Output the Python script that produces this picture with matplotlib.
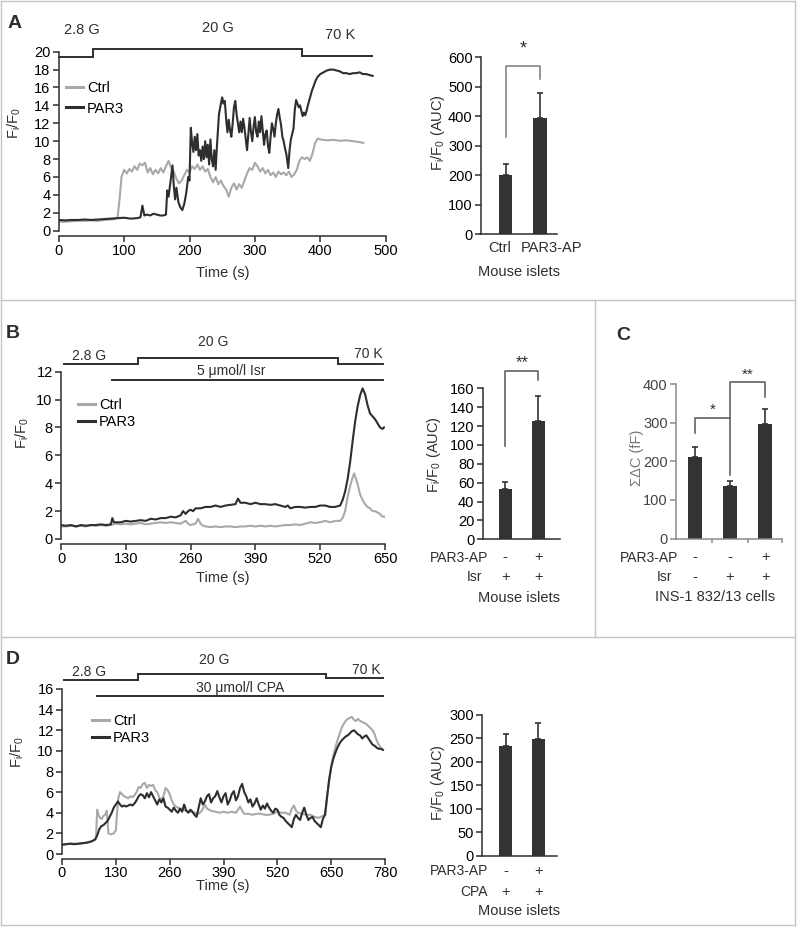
import matplotlib
matplotlib.use('Agg')
import matplotlib.pyplot as plt
import matplotlib.transforms as mtransforms
from matplotlib.lines import Line2D
import numpy as np

plt.rcParams['font.family'] = ['Liberation Sans', 'DejaVu Sans']
plt.rcParams['mathtext.fontset'] = 'custom'
plt.rcParams['mathtext.rm'] = 'Liberation Sans'
plt.rcParams['font.size'] = 10

# ---------------- data ----------------
# Panel A traces (time s, Fi/F0)
a_ctrl_t = [0, 10, 20, 30, 40, 50, 60, 70, 80, 86, 90, 93, 96,
            100, 104, 108, 112, 116, 120, 124, 128, 132, 136, 140, 144, 148, 152, 156, 160,
            164, 168, 172, 176, 180, 184, 188, 192, 196, 200, 204, 208, 212, 216, 220, 224,
            228, 232, 236, 240, 244, 248, 252, 256, 260, 264, 268, 272, 276, 280, 284, 288,
            292, 296, 300, 304, 308, 312, 316, 320, 324, 328, 332, 336, 340, 344, 348, 352,
            356, 360, 364, 368, 372, 376, 380, 384, 388, 392, 396, 400,
            410, 420, 430, 440, 450, 460, 466]
a_ctrl = [1.0, 1.0, 1.05, 1.1, 1.1, 1.15, 1.1, 1.2, 1.25, 1.3, 1.5, 3.5, 6.0,
          6.8, 6.4, 6.9, 6.6, 7.2, 6.8, 7.5, 7.3, 7.6, 6.5, 7.0, 6.3, 6.8, 6.4, 7.0, 6.5,
          7.2, 7.8, 7.0, 6.6, 5.8, 5.3, 5.6, 6.2, 6.8, 6.5, 7.2, 6.9, 7.4, 6.8, 7.2, 6.6,
          6.9, 6.0, 5.4, 6.0, 5.2, 5.6, 5.0, 4.6, 3.8, 4.8, 5.3, 4.6, 5.2, 4.8, 5.6, 6.4,
          7.0, 6.8, 7.6, 7.2, 6.6, 7.0, 6.4, 6.8, 6.2, 6.5, 6.0, 6.6, 6.3, 6.5, 6.2, 6.6,
          6.0, 6.3, 6.8, 7.8, 8.2, 8.0, 8.2, 7.8, 8.6, 9.8, 10.3, 10.2,
          10.1, 10.15, 10.05, 10.1, 10.0, 9.9, 9.8]

a_par3_t = [0, 10, 20, 30, 40, 50, 60, 70, 80, 90, 100, 110, 120, 125, 128, 131, 135, 140,
            145, 150, 155, 160, 164, 166, 168, 171, 174, 176, 178, 180, 183, 186, 189, 192,
            195, 198, 200, 202, 204, 206, 208, 210, 212, 214, 216, 218, 220, 222, 224, 226,
            228, 230, 232, 234, 236, 238, 240, 242, 245, 248, 250, 252, 254, 256, 258, 260,
            262, 264, 266, 268, 270, 272, 274, 276, 278, 280, 282, 284, 286, 288, 290, 292,
            294, 296, 298, 300, 302, 304, 306, 308, 310, 312, 314, 316, 318, 320, 322, 324,
            326, 328, 330, 332, 334, 336, 338, 340, 342, 344, 346, 348, 350, 351, 353, 355,
            357, 359, 361, 363, 365, 367, 369, 371, 373, 375, 377, 379, 381, 384, 387, 390,
            393, 396, 400, 405, 410, 415, 420, 425, 430, 435, 440, 445, 450, 455, 460, 465,
            470, 475, 480]
a_par3 = [1.2, 1.15, 1.2, 1.2, 1.25, 1.2, 1.25, 1.3, 1.35, 1.4, 1.45, 1.35, 1.4, 1.5, 2.8, 1.7, 1.8, 1.7,
          1.9, 1.8, 1.7, 1.7, 1.8, 4.5, 3.8, 5.5, 7.3, 5.0, 3.5, 4.8, 3.2, 2.6, 2.3, 3.0,
          4.2, 6.0, 5.6, 11.5, 9.8, 8.8, 10.5, 9.0, 10.8, 8.4, 9.0, 7.8, 9.4, 8.0, 10.0, 8.2,
          9.6, 7.4, 10.2, 8.0, 7.2, 9.0, 6.8, 9.5, 13.0, 14.2, 14.9, 14.2, 14.5, 12.5, 11.0, 12.4,
          11.2, 10.5, 12.0, 13.8, 14.5, 13.0, 12.0, 11.0, 12.2, 11.0, 12.5, 11.5, 10.2, 9.0, 10.8, 12.6,
          11.0, 10.0, 11.6, 12.7, 11.0, 10.5, 12.2, 11.0, 12.8, 11.2, 9.6, 10.8, 11.2, 9.5, 8.7, 10.5,
          12.0, 11.4, 10.5, 12.0, 13.0, 13.6, 12.6, 11.8, 10.5, 10.0, 9.2, 8.6, 7.5, 7.0, 9.0, 10.2,
          10.8, 11.4, 13.5, 14.6, 14.2, 13.8, 14.0, 13.4, 12.8, 13.2, 12.9, 13.4, 14.0, 14.8, 15.6, 16.2,
          16.8, 17.2, 17.5, 17.7, 17.9, 18.0, 18.0, 17.9, 17.8, 17.6, 17.6, 17.5, 17.6, 17.6, 17.7, 17.5,
          17.5, 17.4, 17.3]

# Panel B traces
b_par3_t = [0, 10, 20, 30, 40, 50, 60, 70, 80, 90, 100, 103, 106, 110, 120, 130, 140, 150,
            160, 170, 180, 190, 200, 210, 220, 230, 240, 245, 250, 255, 260, 265, 270, 280,
            290, 300, 310, 320, 330, 340, 350, 355, 360, 370, 380, 390, 400, 410, 420, 430,
            440, 450, 455, 460, 470, 480, 490, 500, 510, 520, 530, 540, 550, 560, 565, 570,
            575, 580, 585, 590, 595, 600, 605, 610, 615, 620, 625, 630, 635, 640, 645, 648]
b_par3 = [1.0, 0.95, 1.0, 0.9, 1.0, 0.95, 1.0, 1.0, 1.05, 1.0, 1.05, 1.5, 1.2, 1.2, 1.2, 1.3, 1.25, 1.3,
          1.35, 1.3, 1.45, 1.4, 1.5, 1.5, 1.6, 1.55, 1.7, 2.0, 1.8, 2.0, 2.1, 2.0, 2.2, 2.2,
          2.3, 2.3, 2.4, 2.3, 2.4, 2.45, 2.5, 2.9, 2.6, 2.6, 2.5, 2.6, 2.5, 2.5, 2.45, 2.5,
          2.4, 2.3, 2.4, 2.2, 2.3, 2.3, 2.25, 2.3, 2.3, 2.4, 2.4, 2.3, 2.3, 2.4, 2.8, 3.4,
          4.3, 5.5, 7.0, 8.4, 9.5, 10.3, 10.8, 10.4, 9.6, 9.0, 8.8, 8.6, 8.3, 8.0, 7.9, 8.0]

b_ctrl_t = [0, 10, 20, 30, 40, 50, 60, 70, 80, 90, 100, 110, 120, 130, 140, 150, 160, 170,
            180, 190, 200, 210, 220, 230, 240, 250, 255, 260, 270, 275, 280, 285, 290, 300,
            310, 320, 330, 340, 350, 360, 370, 380, 390, 400, 410, 420, 430, 440, 450, 460,
            470, 480, 490, 500, 510, 520, 530, 540, 550, 560, 565, 570, 575, 580, 585, 588,
            592, 596, 600, 605, 610, 615, 620, 625, 630, 635, 640, 645, 648]
b_ctrl = [0.9, 0.9, 0.95, 0.9, 0.95, 0.9, 1.0, 0.95, 1.0, 0.95, 1.0, 1.1, 1.05, 1.1, 1.05, 1.1, 1.15, 1.05,
          1.1, 1.15, 1.2, 1.15, 1.2, 1.15, 1.1, 1.3, 1.1, 1.0, 1.1, 1.45, 1.1, 0.95, 0.9, 0.85,
          0.9, 0.85, 0.9, 0.9, 0.85, 0.9, 0.9, 0.95, 0.9, 0.95, 0.9, 0.95, 0.9, 0.95, 1.0, 1.0,
          1.05, 1.0, 1.1, 1.2, 1.15, 1.2, 1.3, 1.2, 1.3, 1.3, 1.5, 2.0, 3.0, 3.8, 4.4, 4.7,
          4.3, 3.8, 3.2, 2.8, 2.5, 2.3, 2.2, 2.0, 2.0, 1.9, 1.8, 1.6, 1.6]

# Panel D traces
d_ctrl_t = [0, 20, 40, 60, 75, 82, 85, 88, 92, 96, 100, 104, 108, 110, 112, 118, 125, 130,
            133, 136, 140, 145, 150, 155, 160, 165, 170, 175, 180, 185, 190, 195, 200, 205,
            210, 215, 220, 225, 230, 235, 240, 245, 250, 255, 260, 265, 270, 275, 280, 290,
            300, 310, 320, 330, 338, 345, 350, 360, 370, 380, 390, 400, 410, 420, 425, 430,
            435, 440, 450, 460, 470, 480, 490, 500, 510, 520, 530, 540, 550, 555, 560, 565,
            570, 580, 590, 600, 610, 620, 630, 636, 640, 645, 650, 655, 660, 665, 670, 675,
            680, 685, 690, 695, 700, 705, 710, 715, 720, 725, 730, 735, 740, 745, 750, 755,
            760, 765, 770, 775]
d_ctrl = [0.9, 1.0, 1.0, 1.1, 1.3, 1.5, 4.3, 3.8, 3.5, 3.4, 3.7, 3.8, 4.2, 3.2, 2.0, 1.9, 2.0, 2.3,
          4.0, 5.4, 6.0, 5.8, 5.6, 5.5, 5.4, 5.6, 5.5, 5.7, 6.0, 6.5, 6.4, 6.8, 6.9, 6.4,
          6.7, 6.6, 6.7, 6.2, 6.0, 5.5, 5.2, 5.6, 6.4, 6.2, 5.8, 5.2, 4.8, 4.6, 4.5, 4.3,
          4.2, 4.1, 4.0, 3.9, 4.2, 4.8, 4.4, 4.2, 4.1, 4.0, 4.1, 4.0, 4.1, 4.0, 4.3, 4.6,
          4.2, 3.9, 3.9, 3.8, 3.9, 3.9, 3.8, 3.8, 3.9, 4.1, 4.0, 4.0, 3.8, 4.4, 4.7, 4.2,
          4.0, 3.9, 3.8, 3.8, 3.6, 3.5, 3.7, 3.8, 5.5, 7.0, 8.5, 9.5, 10.3, 11.0, 11.6, 12.2,
          12.6, 12.9, 13.1, 13.2, 13.3, 13.0, 12.9, 13.1, 12.9, 12.8, 12.7, 12.6, 12.4, 12.2, 12.0, 11.6,
          11.0, 10.6, 10.3, 10.1]

d_par3_t = [0, 10, 20, 30, 40, 50, 60, 70, 75, 80, 85, 90, 95, 100, 105, 110, 115, 120,
            125, 130, 135, 140, 145, 150, 155, 160, 165, 170, 175, 180, 185, 190, 195, 200,
            205, 210, 215, 220, 225, 230, 235, 240, 245, 250, 255, 260, 265, 270, 275, 280,
            285, 290, 295, 300, 305, 310, 315, 320, 325, 330, 335, 340, 345, 350, 355, 360,
            365, 370, 375, 380, 385, 390, 395, 400, 405, 410, 415, 420, 425, 430, 435, 440,
            445, 450, 455, 460, 465, 470, 475, 480, 485, 490, 495, 500, 505, 510, 515, 520,
            525, 530, 535, 540, 545, 550, 555, 560, 565, 570, 575, 580, 585, 590, 595, 600,
            605, 610, 615, 620, 625, 630, 635, 640, 645, 650, 655, 660, 665, 670, 675, 680,
            685, 690, 695, 700, 705, 710, 715, 720, 725, 730, 735, 740, 745, 750, 755, 760,
            765, 770, 775]
d_par3 = [0.9, 0.95, 1.0, 0.95, 1.0, 1.05, 1.1, 1.2, 1.3, 1.4, 1.8, 2.4, 2.7, 2.8, 3.0, 3.2, 3.6, 4.0,
          4.5, 4.8, 5.1, 4.8, 4.6, 4.7, 4.6, 4.7, 4.8, 4.7, 4.9, 5.2, 5.6, 5.8, 5.7, 5.4,
          5.9, 5.5, 6.0, 5.6, 5.2, 4.8, 5.3, 5.0, 5.4, 4.6, 4.5, 4.3, 4.1, 4.5, 4.2, 4.0,
          4.4, 4.1, 4.8, 4.2, 4.0, 4.3, 4.1, 3.8, 3.6, 4.5, 5.4, 4.8, 5.1, 5.6, 5.8, 5.0,
          5.4, 5.6, 6.1, 5.5, 5.0, 5.6, 5.9, 4.8, 5.2, 5.8, 6.1, 5.2, 5.6, 6.4, 6.8, 6.0,
          5.6, 5.0, 5.3, 4.6, 4.9, 5.4, 4.8, 4.3, 4.7, 4.4, 4.9, 4.5, 4.2, 4.0, 4.4, 4.3,
          3.8, 3.6, 3.5, 3.2, 3.0, 2.8, 2.6, 3.4, 3.8, 3.5, 3.3, 4.0, 4.5, 3.8, 3.3, 3.5,
          3.6, 3.2, 3.0, 2.8, 2.6, 3.4, 3.8, 5.5, 7.2, 8.4, 9.2, 9.8, 10.3, 10.7, 11.0, 11.2,
          11.4, 11.5, 11.7, 11.9, 12.0, 11.8, 11.6, 11.5, 11.2, 11.4, 11.5, 11.2, 10.9, 10.6, 10.5, 10.3,
          10.2, 10.2, 10.1]

# Perfusion protocol switch times (s)
a_switch = [0, 53, 372, 479]
b_switch = [6, 155, 555, 646]
b_isr = [103, 646]
d_switch = [6, 184, 637, 776]
d_cpa = [84, 776]

# Bar charts (AUC / capacitance)
a_bar_labels = ['Ctrl', 'PAR3-AP']
a_bar = [200, 393]
a_err = [37, 85]
b_bar = [53, 125]
b_err = [8, 27]
b_par3ap = ['-', '+']
b_isr_row = ['+', '+']
c_bar = [210, 135, 296]
c_err = [28, 13, 40]
c_par3ap = ['-', '-', '+']
c_isr_row = ['-', '+', '+']
d_bar = [234, 248]
d_err = [25, 36]
d_par3ap = ['-', '+']
d_cpa_row = ['+', '+']

# ---------------- layout helpers ----------------
W, H = 797, 927
fig = plt.figure(figsize=(W / 100, H / 100), dpi=100)
PX = mtransforms.Affine2D().scale(1, -1).translate(0, H)

DARK = '#2e2e2e'
GREY = '#a9a9a9'
BAR = '#333333'


def px_axes(x0, x1, y0, y1):
    return fig.add_axes([x0 / W, 1 - y1 / H, (x1 - x0) / W, (y1 - y0) / H])


def ptext(x, y, s, **kw):
    kw.setdefault('ha', 'center')
    kw.setdefault('va', 'center')
    return fig.text(x / W, 1 - y / H, s, **kw)


def style_axes(ax, lw=1.1, color=DARK):
    for side in ['top', 'right']:
        ax.spines[side].set_visible(False)
    for side in ['left', 'bottom']:
        ax.spines[side].set_linewidth(lw)
        ax.spines[side].set_color(color)
    ax.tick_params(width=lw, length=4, color=color, labelsize=10.5, pad=2)
    ax.patch.set_alpha(0)


def trace_panel(ax, tmax, xt, ymax, yt):
    style_axes(ax)
    ax.set_xlim(0, tmax)
    ax.set_ylim(0, ymax)
    ax.set_xticks(xt)
    ax.set_yticks(yt)
    ax.spines['bottom'].set_position(('outward', 3.5))


def step_line(ax, sw, levels, lw=1.4):
    xs, ys = [], []
    for i, lv in enumerate(levels):
        xs += [sw[i], sw[i + 1]]
        ys += [lv, lv]
    ax.plot(xs, ys, color=DARK, lw=lw, clip_on=False, solid_joinstyle='miter')


def bar_panel(ax, vals, errs, xlim, ylim, yt, color=DARK):
    style_axes(ax, color=color)
    x = np.arange(len(vals))
    ax.bar(x, vals, width=0.4, color=BAR, zorder=2)
    ax.errorbar(x, vals, yerr=[np.zeros(len(vals)), errs], fmt='none', ecolor=BAR,
                elinewidth=1.2, capsize=2.5, capthick=1.2, zorder=3)
    ax.set_xlim(*xlim)
    ax.set_ylim(*ylim)
    ax.set_yticks(yt)
    ax.set_xticks([])
    return x


def legend(ax, x, y, spacing):
    h = [Line2D([], [], color=GREY, lw=2.2), Line2D([], [], color=DARK, lw=2.2)]
    ax.legend(h, ['Ctrl', 'PAR3'], loc='upper left', bbox_to_anchor=(x, y),
              bbox_transform=PX, frameon=False, borderpad=0, borderaxespad=0,
              handlelength=1.15, handletextpad=0.3, labelspacing=spacing, fontsize=10.5)


def table_rows(ax, rows, ys, names, name_x):
    tr = mtransforms.blended_transform_factory(ax.transData, PX)
    for row, y, name, nx in zip(rows, ys, names, name_x):
        for i, s in enumerate(row):
            ax.text(i, y, s, transform=tr, ha='center', va='center', fontsize=10.5, color=DARK)
        ptext(nx, y, name, ha='right', fontsize=10, color=DARK)


FIY = r'F$_\mathregular{i}$/F$_\mathregular{0}$'
FIY_AUC = r'F$_\mathregular{i}$/F$_\mathregular{0}$ (AUC)'

# ---------------- frame ----------------
for seg in [((1, 1), (1, 925)), ((795, 795), (1, 925)), ((1, 795), (1, 1)), ((1, 795), (925, 925)),
            ((1, 795), (300, 300)), ((1, 795), (637, 637)), ((595, 595), (300, 637))]:
    fig.add_artist(Line2D(seg[0], seg[1], transform=PX, color='#c4c4c4', lw=1.0))

# ---------------- Panel A ----------------
ptext(15, 23, 'A', fontsize=14, fontweight='bold', color=DARK)
ax = px_axes(58.7, 385.7, 51.7, 230.7)
trace_panel(ax, 500, [0, 100, 200, 300, 400, 500], 20, np.arange(0, 21, 2))
ax.plot(a_ctrl_t, a_ctrl, color=GREY, lw=1.5)
ax.plot(a_par3_t, a_par3, color=DARK, lw=1.5)
step_line(ax, a_switch, [19.44, 20.3, 19.52])
ax.text(35, 22.4, '2.8 G', ha='center', va='center', fontsize=10.5, color=DARK)
ax.text(244, 22.6, '20 G', ha='center', va='center', fontsize=10.5, color=DARK)
ax.text(430, 21.9, '70 K', ha='center', va='center', fontsize=10.5, color=DARK)
legend(ax, 66, 81, 0.45)
ptext(14, 123, FIY, rotation=90, fontsize=10.5, color=DARK)
ptext(223, 272.7, 'Time (s)', fontsize=10.5, color=DARK)

ax = px_axes(481, 557, 57.3, 234)
x = bar_panel(ax, a_bar, a_err, (-0.72, 1.5), (0, 600), np.arange(0, 601, 100))
for lab, cx in zip(a_bar_labels, [500, 551.5]):
    ptext(cx, 248, lab, fontsize=10.5, color=DARK)
ax.plot([0, 0, 1, 1], [328, 572, 572, 526], color='#7a7a7a', lw=1.1, clip_on=False)
ax.text(0.5, 600, '*', ha='center', va='bottom', fontsize=13, color=DARK)
ptext(438, 133, FIY_AUC, rotation=90, fontsize=10.5, color=DARK)
ptext(519, 271.7, 'Mouse islets', fontsize=10.5, color=DARK)

# ---------------- Panel B ----------------
ptext(13, 333, 'B', fontsize=14, fontweight='bold', color=DARK)
ax = px_axes(61, 385, 371.7, 539)
trace_panel(ax, 650, [0, 130, 260, 390, 520, 650], 12, np.arange(0, 13, 2))
ax.plot(b_ctrl_t, b_ctrl, color=GREY, lw=1.5)
ax.plot(b_par3_t, b_par3, color=DARK, lw=1.5)
step_line(ax, b_switch, [12.53, 12.96, 12.57])
step_line(ax, b_isr, [11.41])
ax.text(56, 13.15, '2.8 G', ha='center', va='center', fontsize=10, color=DARK)
ax.text(305, 14.15, '20 G', ha='center', va='center', fontsize=10, color=DARK)
ax.text(616, 13.3, '70 K', ha='center', va='center', fontsize=10, color=DARK)
ax.text(342, 12.05, '5 μmol/l Isr', ha='center', va='center', fontsize=10, color=DARK)
legend(ax, 78, 398, 0.2)
ptext(22, 433, FIY, rotation=90, fontsize=10.5, color=DARK)
ptext(223, 578, 'Time (s)', fontsize=10.5, color=DARK)

ax = px_axes(482.7, 560, 388.3, 539.3)
x = bar_panel(ax, b_bar, b_err, (-0.685, 1.66), (0, 160), np.arange(0, 161, 20))
ax.plot([0, 0, 1, 1], [99, 178, 178, 169], color='#555555', lw=1.1, clip_on=False)
ax.text(0.5, 179, '**', ha='center', va='bottom', fontsize=12, color=DARK)
table_rows(ax, [b_par3ap, b_isr_row], [557.5, 577], ['PAR3-AP', 'Isr'], [488, 482])
ptext(434, 455, FIY_AUC, rotation=90, fontsize=10.5, color=DARK)
ptext(519, 598, 'Mouse islets', fontsize=10.5, color=DARK)

# ---------------- Panel C ----------------
ptext(623, 335, 'C', fontsize=14, fontweight='bold', color=DARK)
ax = px_axes(676, 782.3, 384, 538.5)
x = bar_panel(ax, c_bar, c_err, (-0.54, 2.49), (0, 400), np.arange(0, 401, 100), color='#8a8a8a')
ax.set_xticks([0.5, 1.5, 2.49])
ax.tick_params(axis='x', labelbottom=False, length=3)
ax.tick_params(axis='y', labelcolor='#444444')
ax.plot([0, 0, 1, 1], [273, 312, 312, 165], color='#555555', lw=1.1, clip_on=False)
ax.plot([1, 1, 2, 2], [312, 405, 405, 366], color='#555555', lw=1.1, clip_on=False)
ax.text(0.5, 314, '*', ha='center', va='bottom', fontsize=11, color=DARK)
ax.text(1.5, 407, '**', ha='center', va='bottom', fontsize=11, color=DARK)
table_rows(ax, [c_par3ap, c_isr_row], [557.5, 577], ['PAR3-AP', 'Isr'], [678, 672])
ptext(637, 458, 'ΣΔC (fF)', rotation=90, fontsize=10.5, color='#777777')
ptext(715, 597, 'INS-1 832/13 cells', fontsize=10.5, color=DARK)

# ---------------- Panel D ----------------
ptext(13, 660, 'D', fontsize=14, fontweight='bold', color=DARK)
ax = px_axes(62, 385, 689, 854)
trace_panel(ax, 780, [0, 130, 260, 390, 520, 650, 780], 16, np.arange(0, 17, 2))
ax.tick_params(axis='x', pad=1)
ax.plot(d_ctrl_t, d_ctrl, color=GREY, lw=1.5)
ax.plot(d_par3_t, d_par3, color=DARK, lw=1.5)
step_line(ax, d_switch, [16.83, 17.46, 17.04])
step_line(ax, d_cpa, [15.32])
ax.text(65, 17.68, '2.8 G', ha='center', va='center', fontsize=10, color=DARK)
ax.text(367, 18.8, '20 G', ha='center', va='center', fontsize=10, color=DARK)
ax.text(736, 17.85, '70 K', ha='center', va='center', fontsize=10, color=DARK)
ax.text(430, 16.07, '30 μmol/l CPA', ha='center', va='center', fontsize=10, color=DARK)
legend(ax, 92, 714, 0.2)
ptext(17, 752, FIY, rotation=90, fontsize=10.5, color=DARK)
ptext(223, 886, 'Time (s)', fontsize=10.5, color=DARK)

ax = px_axes(482.3, 556.7, 715, 855.7)
x = bar_panel(ax, d_bar, d_err, (-0.73, 1.57), (0, 300), np.arange(0, 301, 50))
table_rows(ax, [d_par3ap, d_cpa_row], [871, 892], ['PAR3-AP', 'CPA'], [488, 488])
ptext(438, 783, FIY_AUC, rotation=90, fontsize=10.5, color=DARK)
ptext(519, 911, 'Mouse islets', fontsize=10.5, color=DARK)

fig.savefig('out.png', dpi=100, facecolor='white')
